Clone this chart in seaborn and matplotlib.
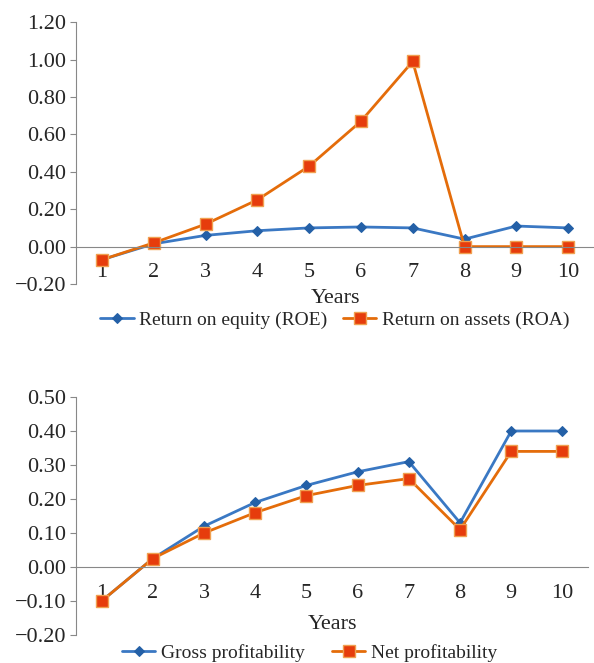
import pandas as pd
import matplotlib
matplotlib.use("Agg")
import matplotlib.pyplot as plt
import seaborn as sns

# data
years = [1, 2, 3, 4, 5, 6, 7, 8, 9, 10]
roe = [-0.07, 0.015, 0.06, 0.085, 0.10, 0.105, 0.10, 0.04, 0.11, 0.10]
roa = [-0.07, 0.02, 0.12, 0.25, 0.43, 0.67, 0.99, 0.00, 0.00, 0.00]
gross = [-0.10, 0.025, 0.12, 0.19, 0.24, 0.28, 0.31, 0.13, 0.40, 0.40]
net = [-0.10, 0.025, 0.10, 0.16, 0.21, 0.24, 0.26, 0.11, 0.34, 0.34]

top_ticks = [-0.20, 0.00, 0.20, 0.40, 0.60, 0.80, 1.00, 1.20]
bottom_ticks = [-0.20, -0.10, 0.00, 0.10, 0.20, 0.30, 0.40, 0.50]

BLUE_LINE = '#3A78C3'
BLUE_MARK = '#2460A7'
ORANGE_LINE = '#E46C0A'
ORANGE_MARK = '#E63C0C'

sns.set_style("white")
plt.rcParams['font.family'] = ['Liberation Serif', 'DejaVu Serif']
plt.rcParams['font.size'] = 15


def style_axes(ax, ticks, xlabelpad):
    """Excel-like look: axis crossing at zero, grey spines"""
    ax.set_xlim(0.5, 10.5)
    ax.set_ylim(ticks[0], ticks[-1])
    ax.set_yticks(ticks)
    ax.set_yticklabels([f"{t:.2f}".replace('-', '\u2212') for t in ticks])
    ax.set_xticks(years)
    ax.set_xticklabels([str(y) for y in years])
    for s in ['top', 'right']:
        ax.spines[s].set_visible(False)
    ax.spines['left'].set_color('#888888')
    ax.spines['bottom'].set_color('#888888')
    ax.spines['bottom'].set_position(('data', 0))
    ax.tick_params(axis='x', length=0, pad=12, labelsize=16)
    ax.tick_params(axis='y', length=4, color='#888888', direction='out',
                   left=True, pad=3, labelsize=16)
    ax.set_xlabel('Years', fontsize=16, labelpad=xlabelpad)
    ax.set_ylabel('')


def draw(ax, df, a, b, la, lb):
    sns.lineplot(data=df, x='year', y=a, ax=ax, color=BLUE_LINE, lw=2,
                 marker='D', markersize=5, markerfacecolor=BLUE_MARK,
                 markeredgecolor=BLUE_MARK, label=la)
    sns.lineplot(data=df, x='year', y=b, ax=ax, color=ORANGE_LINE, lw=2,
                 marker='s', markersize=8, markerfacecolor=ORANGE_MARK,
                 markeredgecolor='#F0A050', markeredgewidth=1, label=lb)


df = pd.DataFrame({'year': years, 'roe': roe, 'roa': roa,
                   'gross': gross, 'net': net})

fig = plt.figure(figsize=(5.94, 6.63), dpi=100)
ax1 = fig.add_axes([0.128, 0.5716, 0.872, 0.395])
ax2 = fig.add_axes([0.128, 0.0422, 0.862, 0.359])

# Plot 1: ROE / ROA
draw(ax1, df, 'roe', 'roa', 'Return on equity (ROE)', 'Return on assets (ROA)')
style_axes(ax1, top_ticks, 5)
ax1.legend(loc='center', bbox_to_anchor=(335 / 594, 1 - 320 / 663),
           bbox_transform=fig.transFigure, ncol=2, frameon=False,
           fontsize=14, handlelength=1.7, columnspacing=0.8, handletextpad=0.3,
           borderpad=0)

# Plot 2: profitability
draw(ax2, df, 'gross', 'net', 'Gross profitability', 'Net profitability')
style_axes(ax2, bottom_ticks, 9)
ax2.legend(loc='center', bbox_to_anchor=(310 / 594, 1 - 653 / 663),
           bbox_transform=fig.transFigure, ncol=2, frameon=False,
           fontsize=14, handlelength=1.7, columnspacing=1.4, handletextpad=0.3,
           borderpad=0)

plt.savefig('out.png', dpi=100)
